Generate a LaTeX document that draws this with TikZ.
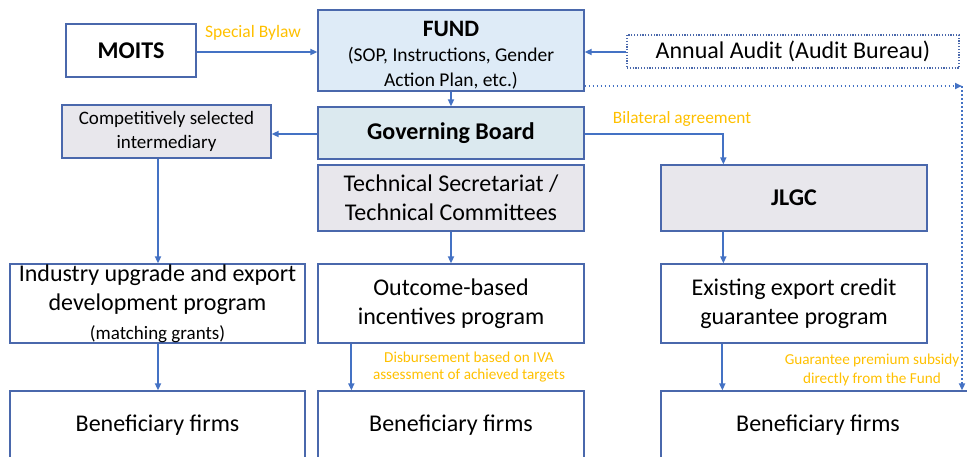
\documentclass[tikz,border=0pt]{standalone}
\usepackage{fontspec}
\setmainfont{Carlito}
\usetikzlibrary{arrows.meta}

\definecolor{edgeblue}{HTML}{4A68AC}
\definecolor{arrowblue}{HTML}{4472C4}
\definecolor{fundfill}{HTML}{DEEBF7}
\definecolor{boardfill}{HTML}{DBE9EF}
\definecolor{greyfill}{HTML}{E8E7EC}
\definecolor{labelgold}{HTML}{FFC000}

\begin{document}
\begin{tikzpicture}[x=1pt,y=-1pt,
  box/.style={draw=edgeblue, line width=1.3pt, fill=white, inner sep=0pt,
    align=center, font=\fontsize{24}{29}\selectfont},
  link/.style={draw=arrowblue, line width=2pt,
    -{Triangle[length=7pt,width=6pt]}},
  dotlink/.style={draw=arrowblue, line width=1.8pt,
    dash pattern=on 1.8pt off 2.2pt, -{Triangle[length=7pt,width=6pt]}},
  note/.style={text=labelgold, inner sep=0pt, align=center}
]
\clip (0,0) rectangle (967,456);

% top row
\node[box, minimum width=130, minimum height=53, font=\bfseries\fontsize{24}{29}\selectfont]
  (moits) at (131,50.5) {MOITS};
\node[box, fill=fundfill, minimum width=266, minimum height=81,
  font=\fontsize{19.5}{25}\selectfont] (fund) at (451,50.5)
  {\rule{0pt}{25pt}{\bfseries\fontsize{23.5}{25}\selectfont FUND}\\(SOP, Instructions, Gender\\Action Plan, etc.)};
\node[box, dash pattern=on 1.2pt off 1.6pt, line width=1.2pt, minimum width=332,
  minimum height=33] (audit) at (793,51.5) {Annual Audit (Audit Bureau)};

% governance row
\node[box, fill=boardfill, minimum width=266, minimum height=52,
  font=\bfseries\fontsize{24}{29}\selectfont] (board) at (451,133) {Governing Board};
\node[box, fill=greyfill, minimum width=209, minimum height=53,
  font=\fontsize{19}{24}\selectfont] (inter) at (166.5,131.5)
  {Competitively selected\\intermediary};
\node[box, fill=greyfill, minimum width=266, minimum height=66] (tech) at (451,198)
  {Technical Secretariat /\\Technical Committees};
\node[box, fill=greyfill, minimum width=266, minimum height=66,
  font=\bfseries\fontsize{24}{29}\selectfont] (jlgc) at (794,198) {JLGC};

% programmes
\node[box, minimum width=295, minimum height=79] (industry) at (157.5,303.5)
  {Industry upgrade and export\\development program\\{\fontsize{19}{22}\selectfont (matching grants)}};
\node[box, minimum width=266, minimum height=79] (outcome) at (451,303.5)
  {Outcome-based\\incentives program};
\node[box, minimum width=266, minimum height=79] (existing) at (794,303.5)
  {Existing export credit\\guarantee program};

% beneficiaries
\node[box, minimum width=295, minimum height=68] (bene1) at (157.5,425) {Beneficiary firms};
\node[box, minimum width=266, minimum height=68] (bene2) at (451,425) {Beneficiary firms};
\node[box, minimum width=314, minimum height=68] (bene3) at (818,425) {Beneficiary firms};

% connectors
\draw[link] (moits.east |- 0,52) -- (fund.west |- 0,52);
\draw[link] (audit.west |- 0,52) -- (fund.east |- 0,52);
\draw[link] (fund.south) -- (board.north);
\draw[link] (board.west |- 0,134) -- (inter.east |- 0,134);
\draw[link] ([xshift=0.5pt]inter.south -| industry.north) -- ([xshift=0.5pt]industry.north);
\draw[link] (board.east |- 0,134) -| ([xshift=63pt]jlgc.north west);
\draw[link] (tech.south) -- (outcome.north);
\draw[link] ([xshift=63pt]jlgc.south west) -- ([xshift=63pt]existing.north west);
\draw[link] ([xshift=0.5pt]industry.south) -- ([xshift=0.5pt]bene1.north);
\draw[link] ([xshift=34pt]outcome.south west) -- ([xshift=34pt]bene2.north west);
\draw[link] ([xshift=62pt]existing.south west) -- ([xshift=62pt]bene3.north west);

% subsidy route straight from the Fund
\coordinate (corner) at (962,86);
\draw[dotlink] (fund.east |- corner) -- (corner);
\draw[dotlink] (corner) -- (corner |- bene3.north);

% connector labels
\node[note, font=\fontsize{17.5}{20}\selectfont] (bylaw) at (253,33) {Special Bylaw};
\node[note, font=\fontsize{17.3}{20}\selectfont] (bilateral) at (682,119) {Bilateral agreement};
\node[note, font=\fontsize{15.2}{17.5}\selectfont] (disb) at (469,367)
  {Disbursement based on IVA\\assessment of achieved targets};
\node[note, font=\fontsize{15.2}{19}\selectfont] (premium) at (872,370)
  {Guarantee premium subsidy\\directly from the Fund};
\end{tikzpicture}
\end{document}
